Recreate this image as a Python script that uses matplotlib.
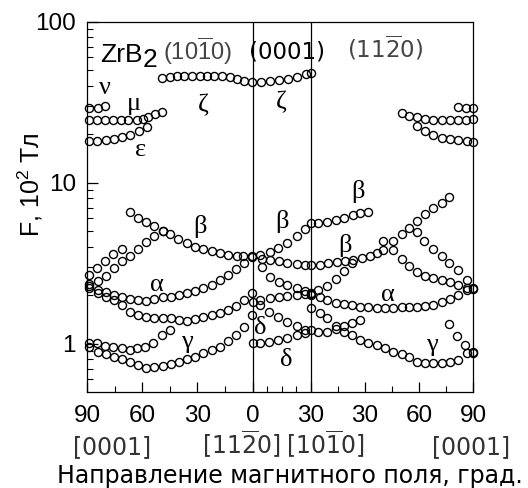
import matplotlib.pyplot as plt
import numpy as np
from matplotlib.ticker import NullFormatter, LogLocator

plt.rcParams['font.family'] = 'Liberation Sans'
plt.rcParams['mathtext.fontset'] = 'custom'
plt.rcParams['mathtext.rm'] = 'Liberation Sans'
plt.rcParams['mathtext.it'] = 'Liberation Sans:italic'

# ---- left panel: field from [0001] (90 deg) to [11-20] (0 deg) ----
left_nu_deg = [89, 84, 80]
left_nu_F = [29.0, 29.2, 29.9]
left_mu_deg = [89, 84.7, 80.2, 76, 71.7, 67.5, 63, 59.4, 56.7, 53, 49.4]
left_mu_F = [24.5, 24.5, 24.5, 24.4, 24.4, 24.5, 24.6, 25.0, 25.7, 26.6, 27.4]
left_eps_deg = [88.7, 84.4, 79.8, 75.3, 70.8, 66.6, 61.7, 57.5]
left_eps_F = [18.2, 18.1, 18.4, 18.8, 19.2, 19.7, 20.8, 22.2]
left_zeta_deg = [49.2, 45.1, 41.1, 37.0, 32.9, 28.8, 24.7, 20.7, 16.6, 12.5, 8.4, 4.4, 0.3]
left_zeta_F = [45.0, 45.5, 45.8, 46.0, 46.2, 46.3, 46.3, 46.1, 45.8, 45.1, 44.1, 42.8, 42.0]
left_beta_deg = [66.6, 62.1, 57.9, 53.4, 48.8, 44.9, 40.3, 35.8, 31.3, 26.8, 22.2, 17.7, 13.2, 8.6, 5.0, 0.4]
left_beta_F = [6.55, 6.06, 5.72, 5.39, 5.03, 4.80, 4.45, 4.24, 4.00, 3.86, 3.77, 3.64, 3.56, 3.52, 3.49, 3.49]
left_rise1_deg = [88.9, 84.6, 80.2, 75.9, 71.2]
left_rise1_F = [2.67, 2.95, 3.26, 3.61, 3.87]
left_rise2_deg = [88.7, 84.2, 79.8, 75.3, 71.1, 66.6, 62.1, 57.9, 53.4, 48.8]
left_rise2_F = [2.35, 2.45, 2.63, 2.94, 3.26, 3.51, 3.86, 4.26, 4.67, 5.03]
left_deg = [88.7, 84.2, 79.8, 75.3, 71.1, 66.6, 62.1, 57.9, 53.4, 48.8, 44.3,
            40.0, 35.8, 31.3, 26.8, 22.2, 17.7, 13.2, 9.0, 4.6, 0.4]
left_alpha1_F = [2.28, 2.16, 2.10, 2.01, 1.94, 1.90, 1.87, 1.85, 1.90, 1.94, 1.96,
                 2.01, 2.06, 2.12, 2.21, 2.32, 2.49, 2.67, 2.90, 3.16, 3.47]
left_alpha2_F = [2.22, 2.06, 1.96, 1.87, 1.74, 1.58, 1.51, 1.47, 1.44, 1.44, 1.44,
                 1.40, 1.38, 1.42, 1.47, 1.51, 1.56, 1.62, 1.71, 1.87, 2.06]
left_gamma2_F = [0.958, 0.892, 0.863, 0.831, 0.800, 0.773, 0.737, 0.703, 0.720, 0.727, 0.748,
                 0.773, 0.800, 0.831, 0.872, 0.914, 0.958, 1.04, 1.13, 1.27, 1.51]
left_gamma1_deg = [88.7, 84.6, 80.2, 75.7, 71.1, 66.6, 63.0, 58.5, 54.3, 49.4, 44.9]
left_gamma1_F = [1.006, 1.006, 0.972, 0.958, 0.936, 0.914, 0.936, 0.958, 1.006, 1.13, 1.22]

# ---- middle panel: [11-20] (0 deg) to [10-10] (30 deg) ----
mid_zeta_deg = [4.4, 9.0, 13.6, 18.2, 22.7, 27.4, 30]
mid_zeta_F = [42.4, 42.8, 43.4, 44.1, 45.5, 47.3, 47.8]
mid_beta1_deg = [3.8, 9.0, 13.2, 17.8, 22.7, 26.9, 30]
mid_beta1_F = [3.56, 3.73, 3.91, 4.24, 4.67, 5.14, 5.59]
mid_beta2_deg = [4.7, 9.0, 13.6, 17.8, 22.7, 26.9, 30]
mid_beta2_F = [3.36, 3.30, 3.25, 3.19, 3.14, 3.09, 3.06]
mid_fall_deg = [4.7, 9.0, 13.6, 17.8, 22.7, 26.9, 30]
mid_fall_F = [3.01, 2.61, 2.43, 2.32, 2.21, 2.13, 2.06]
mid_alpha_deg = [3.8, 9.0, 13.6, 17.8, 22.7, 26.9, 30]
mid_alpha_F = [1.88, 1.92, 1.96, 1.98, 2.01, 2.04, 2.04]
mid_delta1_deg = [0, 3.8, 8.6, 13.2, 17.8, 22.7, 26.9]
mid_delta1_F = [1.82, 1.74, 1.58, 1.47, 1.37, 1.28, 1.22]
mid_delta2_deg = [0, 3.8, 8.6, 13.2, 17.8, 22.7, 26.9, 30]
mid_delta2_F = [1.01, 1.01, 1.03, 1.05, 1.08, 1.13, 1.16, 1.22]

# ---- right panel: [10-10] (0 deg) to [0001] (90 deg) ----
right_nu_deg = [81.8, 86.1, 90]
right_nu_F = [29.6, 29.2, 29.0]
right_mu_deg = [50.4, 54.6, 58.7, 63.3, 67.9, 72.6, 77.2, 81.8, 86.1, 90]
right_mu_F = [27.0, 26.0, 25.5, 24.8, 24.5, 24.5, 24.5, 24.5, 24.5, 24.8]
right_eps_deg = [58.7, 63.3, 67.9, 72.6, 77.2, 81.8, 86.5, 90]
right_eps_F = [22.4, 20.8, 19.8, 19.0, 18.7, 18.4, 18.2, 18.0]
right_beta1_deg = [4.1, 9.1, 13.9, 18.3, 23.2, 27.2, 31.8]
right_beta1_F = [5.64, 5.72, 5.87, 6.06, 6.30, 6.46, 6.60]
right_beta2_deg = [5.0, 9.6, 14.3, 18.9, 23.5, 28.2, 32.8, 36.5, 40.2, 45.4, 50.4,
                   54.6, 58.7, 63.3, 67.9, 72.6, 76.8]
right_beta2_F = [3.09, 3.15, 3.20, 3.26, 3.31, 3.39, 3.50, 3.64, 3.82, 4.36, 4.80,
                 5.25, 5.81, 6.36, 6.93, 7.51, 8.19]
right_steep_deg = [4.1, 9.1, 13.9, 18.3, 22.6]
right_steep_F = [2.16, 2.28, 2.52, 2.84, 3.16]
right_fall1_deg = [40.2, 45.4, 50.4, 54.6, 58.7, 63.3, 67.9, 72.6, 77.2, 81.8, 86.5]
right_fall1_F = [4.36, 3.82, 3.36, 3.04, 2.77, 2.63, 2.56, 2.49, 2.40, 2.32, 2.23]
right_fall2_deg = [58.7, 62.8, 67.6, 72.6, 76.8, 81.8, 86.5, 90]
right_fall2_F = [4.96, 4.36, 3.86, 3.51, 3.19, 2.86, 2.49, 2.19]
right_deg = [0, 5.0, 9.1, 13.9, 18.3, 22.6, 27.2, 31.8, 36.5, 41.1, 45.4,
             50.4, 54.6, 58.7, 63.3, 67.9, 72.6, 77.2, 81.8, 86.5, 90]
right_alpha_F = [2.01, 1.95, 1.87, 1.80, 1.76, 1.73, 1.70, 1.68, 1.67, 1.67, 1.67,
                 1.68, 1.68, 1.69, 1.71, 1.75, 1.82, 1.90, 2.01, 2.16, 2.22]
right_gamma1_F = [1.66, 1.56, 1.44, 1.28, 1.19, 1.13, 1.06, 1.01, 0.982, 0.936, 0.892,
                  0.863, 0.831, 0.773, 0.762, 0.762, 0.762, 0.773, 0.792, 0.872, 0.882]
right_gamma2_deg = [4.1, 9.1, 13.9, 18.3, 22.6, 27.2]
right_gamma2_F = [1.19, 1.19, 1.23, 1.29, 1.35, 1.40]
right_gamma3_deg = [76.8, 81.3, 85.6, 90]
right_gamma3_F = [1.33, 1.11, 0.982, 0.876]

# panel widths on the common x axis
LEFT_W, MID_W, RIGHT_W = 165.5, 58.5, 162.0


def x_left(deg):
    return (90 - np.asarray(deg, dtype=float)) * LEFT_W / 90


def x_mid(deg):
    return LEFT_W + np.asarray(deg, dtype=float) * MID_W / 30


def x_right(deg):
    return LEFT_W + MID_W + np.asarray(deg, dtype=float) * RIGHT_W / 90


series = [
    (x_left(left_nu_deg), left_nu_F), (x_left(left_mu_deg), left_mu_F),
    (x_left(left_eps_deg), left_eps_F), (x_left(left_zeta_deg), left_zeta_F),
    (x_left(left_beta_deg), left_beta_F), (x_left(left_rise1_deg), left_rise1_F),
    (x_left(left_rise2_deg), left_rise2_F), (x_left(left_deg), left_alpha1_F),
    (x_left(left_deg), left_alpha2_F), (x_left(left_deg), left_gamma2_F),
    (x_left(left_gamma1_deg), left_gamma1_F),
    (x_mid(mid_zeta_deg), mid_zeta_F), (x_mid(mid_beta1_deg), mid_beta1_F),
    (x_mid(mid_beta2_deg), mid_beta2_F), (x_mid(mid_fall_deg), mid_fall_F),
    (x_mid(mid_alpha_deg), mid_alpha_F), (x_mid(mid_delta1_deg), mid_delta1_F),
    (x_mid(mid_delta2_deg), mid_delta2_F),
    (x_right(right_nu_deg), right_nu_F), (x_right(right_mu_deg), right_mu_F),
    (x_right(right_eps_deg), right_eps_F), (x_right(right_beta1_deg), right_beta1_F),
    (x_right(right_beta2_deg), right_beta2_F), (x_right(right_steep_deg), right_steep_F),
    (x_right(right_fall1_deg), right_fall1_F), (x_right(right_fall2_deg), right_fall2_F),
    (x_right(right_deg), right_alpha_F), (x_right(right_deg), right_gamma1_F),
    (x_right(right_gamma2_deg), right_gamma2_F), (x_right(right_gamma3_deg), right_gamma3_F),
]

W, H = 528, 488
fig = plt.figure(figsize=(W / 100, H / 100), dpi=100)
ax = fig.add_axes([87 / W, (H - 392) / H, 386 / W, 370.3 / H])

for xs, fs in series:
    ax.plot(xs, fs, 'o', ms=5.8, mfc='none', mec='k', mew=1.0, clip_on=False, zorder=3)

ax.axvline(LEFT_W, color='k', lw=0.9)
ax.axvline(LEFT_W + MID_W, color='k', lw=0.9)

ax.set_xlim(0, LEFT_W + MID_W + RIGHT_W)
ax.set_yscale('log')
ax.set_ylim(0.501, 100)
ax.set_yticks([1, 10, 100])
ax.set_yticklabels(['1', '10', '100'])
ax.yaxis.set_minor_locator(LogLocator(base=10, subs=np.arange(2, 10)))
ax.yaxis.set_minor_formatter(NullFormatter())

major_x = np.concatenate([x_left([90, 60, 30, 0]), x_mid([30]), x_right([30, 60, 90])])
ax.set_xticks(major_x)
ax.set_xticklabels(['90', '60', '30', '0', '30', '30', '60', '90'])
ax.set_xticks(np.concatenate([x_left([75, 45, 15]), x_mid([7.5, 15, 22.5]),
                              x_right([15, 45, 75])]), minor=True)

ax.tick_params(which='both', direction='in', top=False, right=False, labelsize=17.5)
ax.tick_params(axis='x', which='major', length=7, width=0.9, pad=9)
ax.tick_params(axis='y', which='major', length=8, width=0.9, pad=8)
ax.tick_params(which='minor', length=4, width=0.8)
for sp in ax.spines.values():
    sp.set_linewidth(0.9)


def fx(px):
    return px / W


def fy(py):
    return (H - py) / H


# orientation labels at the top
fig.text(fx(100), fy(61.5), 'ZrB', fontsize=19, color='k', va='baseline')
fig.text(fx(143), fy(67), '2', fontsize=19, color='k', va='baseline')
fig.text(fx(163), fy(60), r'(10$\overline{1}$0)', fontsize=17, color='#444444', va='baseline')
fig.text(fx(249), fy(58.5), '(0001)', fontsize=16.5, color='#000000', va='baseline',
         family='DejaVu Sans')
fig.text(fx(347), fy(58), r'(11$\overline{2}$0)', fontsize=16.5, color='#444444', va='baseline',
         family='DejaVu Sans', math_fontfamily='dejavusans')

# field directions under the tick labels
dir_labels = ['[0001]', r'[11$\overline{2}$0]', r'[10$\overline{1}$0]', '[0001]']
dir_px = [112, 241, 325, 471]
for lab, px in zip(dir_labels, dir_px):
    fig.text(fx(px), fy(454.3), lab, fontsize=17, color='#333333', ha='center', va='baseline',
             family='DejaVu Sans', math_fontfamily='dejavusans')

fig.text(fx(290), fy(483.5), 'Направление магнитного поля, град.', fontsize=17,
         ha='center', va='baseline', family='DejaVu Sans')
fig.text(fx(30), fy(185), r'F, 10$^2$ Тл', fontsize=18, rotation=90, ha='center', va='center')

# branch labels
greek = ['ν', 'μ', 'ε', 'ζ', 'ζ', 'β', 'β', 'β', 'β', 'α', 'α', 'γ', 'γ', 'δ', 'δ']
greek_x = [18, 47, 54, 116.3, 194.7, 113, 194.7, 271.3, 258, 69.7, 301.3, 99.7, 344.7, 173, 199.7]
greek_F = [38.7, 30.8, 16.0, 30.4, 31.8, 5.33, 5.72, 8.8, 4.10, 2.32, 2.01, 1.03, 0.98, 1.25, 0.79]
for g, gx, gf in zip(greek, greek_x, greek_F):
    ax.text(gx, gf, g, fontsize=19, family='Liberation Serif', ha='center', va='center')

plt.savefig('out.png', dpi=100)
plt.close(fig)
